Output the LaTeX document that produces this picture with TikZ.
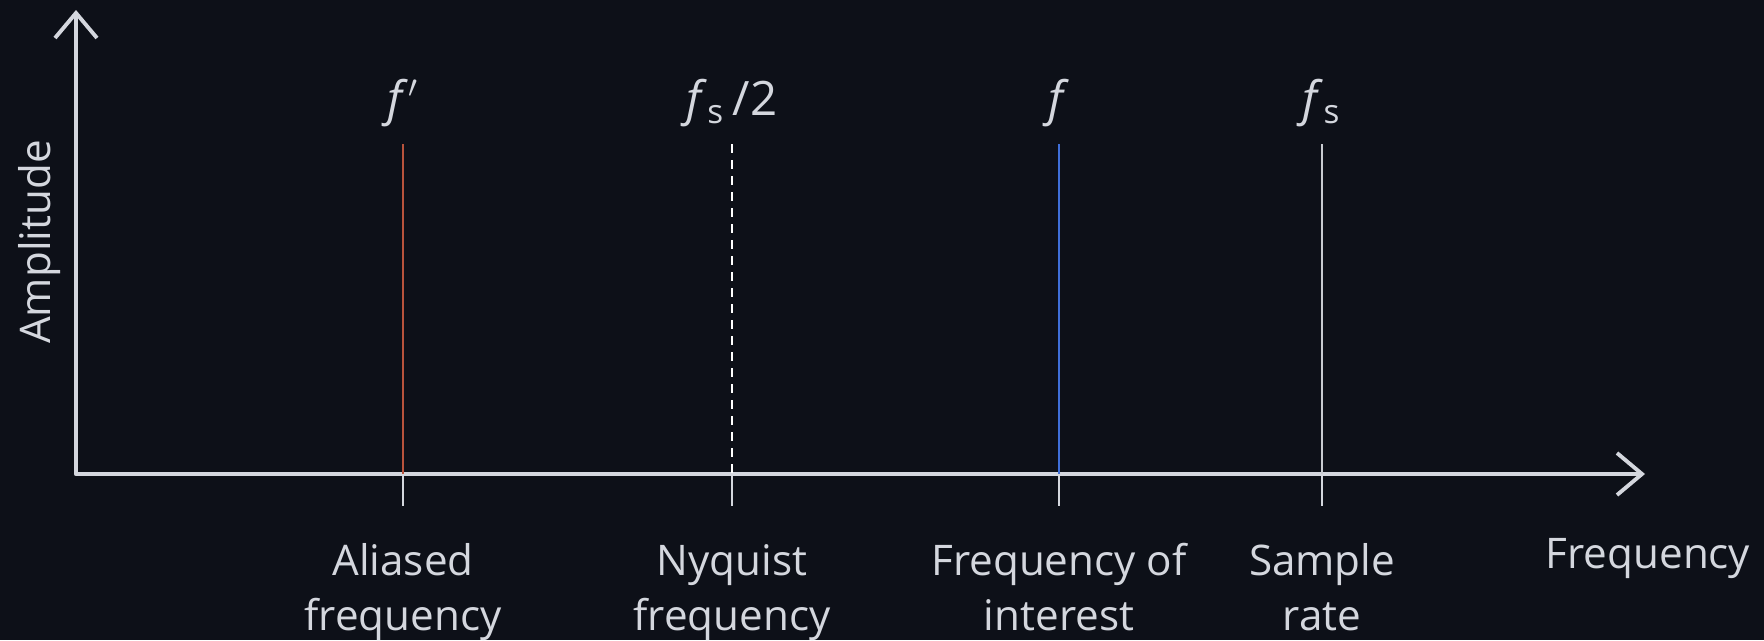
\documentclass[tikz,border=0pt]{standalone}
\usepackage{fontspec}
\setmainfont{Open Sans}
\usepackage{tikz}
\usetikzlibrary{arrows.meta, calc}
\definecolor{bg}{HTML}{0D1018}
\definecolor{axisgray}{HTML}{D4D7DE}
\definecolor{aliasred}{HTML}{B8533C}
\definecolor{sigblue}{HTML}{3F6FD8}
\definecolor{rategray}{HTML}{C8CBD0}
\tikzset{
  axis/.style={axisgray, line width=1.2pt, line cap=round, line join=round},
  barb/.tip={Straight Barb[length=0.25cm, width=0.42cm, line width=1.1pt]},
  lbl/.style={text=axisgray, font=\fontsize{12}{15.4}\selectfont, align=center, inner sep=0pt},
  sym/.style={text=axisgray, font=\fontsize{13.5}{15}\selectfont, inner sep=0pt},
  aliasline/.style={aliasred, line width=0.7pt},
  nyqline/.style={white, line width=0.7pt, dash pattern=on 0.09cm off 0.07cm},
  sigline/.style={sigblue, line width=0.8pt},
  rateline/.style={rategray, line width=0.6pt},
  tickmark/.style={axisgray, line width=0.5pt}
}
\def\fsym{\textit{f}}

\begin{document}
\begin{tikzpicture}
  \fill[bg] (0,0) rectangle (17.64,6.40);
  \useasboundingbox (0,0) rectangle (17.64,6.40);
  % axes
  \coordinate (o) at (0.76,1.66);
  \coordinate (ytip) at (0.76,6.30);
  \coordinate (xtip) at (16.45,1.66);
  \draw[axis, barb-barb] (ytip) |- (xtip);
  \node[lbl, rotate=90] (amp) at (0.40,3.98) {Amplitude};
  \node[lbl, anchor=base] (freq) at (16.48,0.72) {Frequency};
  % markers: name / x / symbol / caption
  \foreach \nm/\x/\sy/\cap in {
      alias/4.03/{\fsym$'$}/{Aliased\\frequency},
      nyq/7.32/{\fsym\textsubscript{s}\,/2}/{Nyquist\\frequency},
      sig/10.59/{\fsym}/{Frequency of\\interest},
      rate/13.22/{\fsym\textsubscript{s}}/{Sample\\rate}} {
    \coordinate (\nm top) at (\x,4.96);
    \coordinate (\nm foot) at (\x,1.34);
    \node[sym] (\nm sym) at (\x,5.37) {\sy};
    \node[lbl, anchor=base] (\nm cap) at (\x,0.10) {\cap};
    \draw[\nm line] (\nm top) -- (\nm top |- o);
    \draw[tickmark] (\nm top |- o) -- (\nm foot);
  }
\end{tikzpicture}
\end{document}
